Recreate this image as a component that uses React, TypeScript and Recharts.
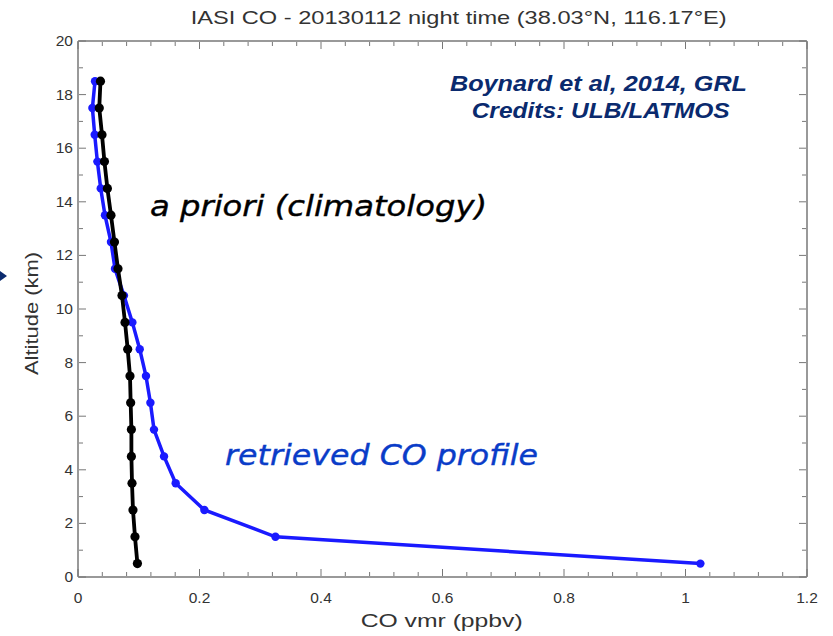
import React from "react"
import { ScatterChart, Scatter, XAxis, YAxis } from "recharts"

// altitude levels (km), values in ppbv
const altitudes = [18.5, 17.5, 16.5, 15.5, 14.5, 13.5, 12.5, 11.5, 10.5, 9.5, 8.5, 7.5, 6.5, 5.5, 4.5, 3.5, 2.5, 1.5, 0.5]
const apriori = [0.037, 0.035, 0.0395, 0.0435, 0.0484, 0.0543, 0.06, 0.0658, 0.0724, 0.0774, 0.0818, 0.0856, 0.0867, 0.0879, 0.0879, 0.0889, 0.0905, 0.0938, 0.0978]
const retrieved = [0.028, 0.0237, 0.0275, 0.0319, 0.0374, 0.0444, 0.0543, 0.0609, 0.0757, 0.0895, 0.1016, 0.1119, 0.1192, 0.1251, 0.1416, 0.1608, 0.208, 0.325, 1.0245]

const xMajor = [0, 0.2, 0.4, 0.6, 0.8, 1, 1.2]
const yMajor = [0, 2, 4, 6, 8, 10, 12, 14, 16, 18, 20]
const xTicks = Array.from({ length: 31 }, (_, i) => Math.round(i * 0.04 * 100) / 100)
const yTicks = Array.from({ length: 21 }, (_, i) => i)

const aprioriData = altitudes.map((alt, i) => ({ alt, co: apriori[i] }))
const retrievedData = altitudes.map((alt, i) => ({ alt, co: retrieved[i] }))

const TICK = "#777"
const LABEL = "#333"
const font = "Liberation Sans, Arial, sans-serif"
const noteFont = "DejaVu Sans, Verdana, sans-serif"
const isMajorX = (v: number) => xMajor.some((m) => Math.abs(m - v) < 1e-6)
const isMajorY = (v: number) => yMajor.includes(v)

const BottomTick = ({ x, y, payload }: any) => {
  const major = isMajorX(payload.value)
  return (
    <g>
      <line x1={x} y1={y - 1} x2={x} y2={y - 1 - (major ? 7 : 4)} stroke={TICK} />
      {major && (
        <text x={x} y={y + 26} textAnchor="middle" fontSize={15.5} fill={LABEL} fontFamily={font}>
          {String(payload.value)}
        </text>
      )}
    </g>
  )
}

const TopTick = ({ x, y, payload }: any) => {
  const major = isMajorX(payload.value)
  return <line x1={x} y1={y + 1} x2={x} y2={y + 1 + (major ? 7 : 4)} stroke={TICK} />
}

const LeftTick = ({ x, y, payload }: any) => {
  const major = isMajorY(payload.value)
  return (
    <g>
      <line x1={x + 1} y1={y} x2={x + 1 + (major ? 7 : 4)} y2={y} stroke={TICK} />
      {major && (
        <text x={x - 5} y={y + 5} textAnchor="end" fontSize={15.5} fill={LABEL} fontFamily={font}>
          {payload.value}
        </text>
      )}
    </g>
  )
}

const RightTick = ({ x, y, payload }: any) => {
  const major = isMajorY(payload.value)
  return <line x1={x - 1} y1={y} x2={x - 1 - (major ? 7 : 4)} y2={y} stroke={TICK} />
}

const axisLine = { stroke: TICK, strokeWidth: 1.5 }

export default function App() {
  return (
    <div style={{ position: "absolute", left: 0, top: 0, width: 833, height: 636, background: "#fff" }}>
      <ScatterChart width={833} height={636} margin={{ top: 40, right: 25, bottom: 58, left: 77 }}>
        <XAxis xAxisId={0} type="number" dataKey="co" domain={[0, 1.2]} ticks={xTicks} interval={0}
          height={1} tickSize={0} tickMargin={0} tick={<BottomTick />} axisLine={axisLine} tickLine={false} />
        <XAxis xAxisId="top" orientation="top" type="number" dataKey="co" domain={[0, 1.2]} ticks={xTicks} interval={0}
          height={1} tickSize={0} tickMargin={0} tick={<TopTick />} axisLine={axisLine} tickLine={false} allowDataOverflow />
        <YAxis yAxisId={0} type="number" dataKey="alt" domain={[0, 20]} ticks={yTicks} interval={0}
          width={1} tickSize={0} tickMargin={0} tick={<LeftTick />} axisLine={axisLine} tickLine={false} />
        <YAxis yAxisId="right" orientation="right" type="number" dataKey="alt" domain={[0, 20]} ticks={yTicks} interval={0}
          width={1} tickSize={0} tickMargin={0} tick={<RightTick />} axisLine={axisLine} tickLine={false} allowDataOverflow />
        <Scatter
          name="retrieved"
          data={retrievedData}
          xAxisId={0}
          yAxisId={0}
          line={{ stroke: "#1a1aff", strokeWidth: 3.5 }}
          shape={(p: any) => <circle cx={p.cx} cy={p.cy} r={4.2} fill="#1a1aff" />}
          isAnimationActive={false}
        />
        <Scatter
          name="apriori"
          data={aprioriData}
          xAxisId={0}
          yAxisId={0}
          line={{ stroke: "#000", strokeWidth: 3.8 }}
          shape={(p: any) => <circle cx={p.cx} cy={p.cy} r={4.6} fill="#000" />}
          isAnimationActive={false}
        />
      </ScatterChart>
      <svg width={833} height={636} style={{ position: "absolute", left: 0, top: 0, pointerEvents: "none" }}>
        <text x={190.7} y={24} fontSize={18.5} fill={LABEL} fontFamily={font} textLength={536} lengthAdjust="spacingAndGlyphs">
          IASI CO - 20130112 night time (38.03°N, 116.17°E)
        </text>
        <text x={360.7} y={626.5} fontSize={19} fill={LABEL} fontFamily={font} textLength={162} lengthAdjust="spacingAndGlyphs">
          CO vmr (ppbv)
        </text>
        <text transform="translate(37.5,375) rotate(-90)" x={0} y={0} fontSize={19} fill={LABEL} fontFamily={font} textLength={123} lengthAdjust="spacingAndGlyphs">
          Altitude (km)
        </text>
        <text x={150} y={216} fontSize={28} fontStyle="italic" fill="#000" stroke="#000" strokeWidth={0.4} fontFamily={noteFont} textLength={337} lengthAdjust="spacingAndGlyphs">
          a priori (climatology)
        </text>
        <text x={225} y={465} fontSize={29} fontStyle="italic" fill="#0a3cc8" stroke="#0a3cc8" strokeWidth={0.4} fontFamily={noteFont} textLength={313} lengthAdjust="spacingAndGlyphs">
          retrieved CO profile
        </text>
        <text x={450} y={90.7} fontSize={22} fontStyle="italic" fontWeight="bold" fill="#0a2a6e" fontFamily={font} textLength={297} lengthAdjust="spacingAndGlyphs">
          Boynard et al, 2014, GRL
        </text>
        <text x={471.7} y={118.3} fontSize={22} fontStyle="italic" fontWeight="bold" fill="#0a2a6e" fontFamily={font} textLength={258} lengthAdjust="spacingAndGlyphs">
          Credits: ULB/LATMOS
        </text>
        <polygon points="0,271 7,276 0,281" fill="#0a2a6e" />
      </svg>
    </div>
  )
}
